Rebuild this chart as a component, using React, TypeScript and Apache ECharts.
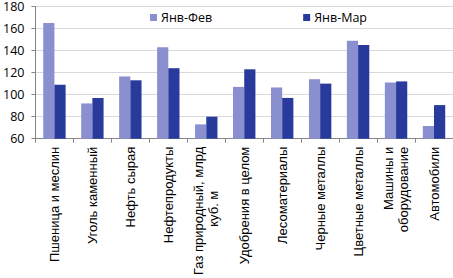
import React, { useEffect, useRef } from "react";
import * as echarts from "echarts";

const categories = [
  "Пшеница и меслин",
  "Уголь каменный",
  "Нефть сырая",
  "Нефтепродукты",
  "Газ природный, млрд\nкуб. м",
  "Удобрения в целом",
  "Лесоматериалы",
  "Черные металлы",
  "Цветные металлы",
  "Машины и\nоборудование",
  "Автомобили",
];
const seriesNames = ["Янв-Фев", "Янв-Мар"];
const janFeb = [165, 92, 116.5, 143, 73, 107, 106.5, 114, 149, 111, 71.5];
const janMar = [109, 97, 113, 124, 80, 123, 97, 110, 145, 112, 90.5];
const yTicks = { min: 60, max: 180, interval: 20 };

export default function App() {
  const ref = useRef<HTMLDivElement>(null);
  useEffect(() => {
    if (!ref.current) return;
    const chart = echarts.init(ref.current, null, { renderer: "svg" });
    chart.setOption({
      animation: false,
      backgroundColor: "#ffffff",
      grid: { left: 33, right: 0, top: 5.5, bottom: 138.5, containLabel: false },
      legend: {
        data: seriesNames,
        left: 145,
        top: 6,
        icon: "rect",
        itemWidth: 7,
        itemHeight: 7,
        itemGap: 91,
        textStyle: { fontFamily: "Open Sans", fontSize: 12.5, color: "#000", padding: [0, 0, 0, -1] },
      },
      xAxis: {
        type: "category",
        data: categories,
        axisLine: { lineStyle: { color: "#868686", width: 1 } },
        axisTick: { show: true, length: 4, lineStyle: { color: "#868686" } },
        axisLabel: {
          rotate: 90,
          interval: 0,
          margin: 8,
          fontFamily: "Liberation Sans",
          fontSize: 13,
          lineHeight: 15,
          color: "#000",
          formatter: (v: string) => {
            if (v.startsWith("Газ")) {
              const [a, b] = v.split("\n");
              return `{n|${a}}\n{i|${b}}`;
            }
            return v;
          },
          rich: {
            n: { fontFamily: "Liberation Sans", fontSize: 13, lineHeight: 15, color: "#000" },
            i: { fontFamily: "Liberation Sans", fontSize: 13, lineHeight: 15, color: "#000", padding: [0, 44, 0, 0] },
          },
        },
      },
      yAxis: {
        type: "value",
        min: yTicks.min,
        max: yTicks.max,
        interval: yTicks.interval,
        axisLine: { show: true, lineStyle: { color: "#868686" } },
        axisTick: { show: true, length: 4, lineStyle: { color: "#868686" } },
        axisLabel: { margin: 11, fontFamily: "Open Sans", fontSize: 12.5, color: "#000" },
        splitLine: { lineStyle: { color: "#d9d9d9" } },
      },
      series: [
        {
          name: seriesNames[0],
          type: "bar",
          data: janFeb,
          barGap: "0%",
          barCategoryGap: "41%",
          itemStyle: { color: "#8a8fd0" },
        },
        {
          name: seriesNames[1],
          type: "bar",
          data: janMar,
          barGap: "0%",
          barCategoryGap: "41%",
          itemStyle: { color: "#283b9c" },
        },
      ],
    });
    return () => chart.dispose();
  }, []);
  return (
    <div
      ref={ref}
      style={{ position: "fixed", left: 0, top: 0, width: 453, height: 278 }}
    />
  );
}
